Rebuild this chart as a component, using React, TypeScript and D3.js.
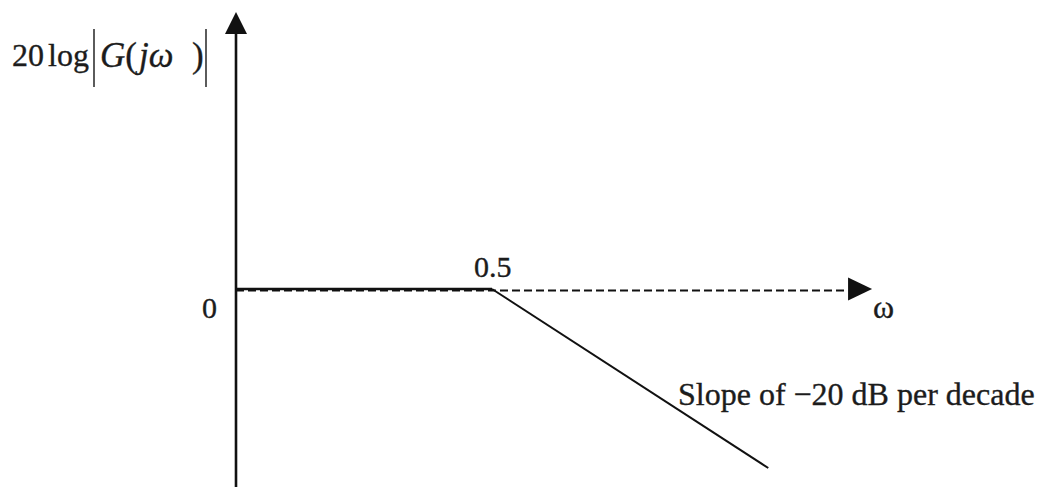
import React from "react";
import * as d3 from "d3";

// Asymptotic Bode magnitude plot of a first-order lag with corner at 0.5 rad/s
const omegaPoints = [0.05, 0.5, 6];
const gainDb = [0, 0, -21.6];
const cornerLabel = "0.5";
const zeroLabel = "0";
const slopeLabel = "Slope of \u221220 dB per decade";
const omegaDashEnd = 12.3;

const W = 1056;
const H = 487;
const FONT = "'Liberation Serif', 'Times New Roman', serif";

export default function App() {
  const x = d3.scaleLog().domain([0.05, 0.5]).range([236, 492]);
  const y = d3.scaleLinear().domain([0, -21.6]).range([289, 468]);

  const pts: [number, number][] = omegaPoints.map((w, i) => [x(w), y(gainDb[i])]);
  const line = d3.line();

  const x0 = x(omegaPoints[0]);
  const y0 = y(0);
  const xCorner = x(0.5);
  const xDashEnd = x(omegaDashEnd);
  const ink = "#111";
  const textInk = "#1c1c1c";
  const textProps = { fill: textInk, stroke: textInk, strokeWidth: 0.35 };

  return (
    <svg
      width={W}
      height={H}
      style={{ position: "absolute", left: 0, top: 0, background: "#fff" }}
      fontFamily={FONT}
    >
      {/* vertical magnitude axis with arrowhead */}
      <line x1={x0} y1={33} x2={x0} y2={H} stroke={ink} strokeWidth={2.6} />
      <path d={`M${x0},12 L${x0 - 11},34 L${x0 + 11},34 Z`} fill={ink} />

      {/* frequency axis, dashed beyond the corner */}
      <line
        x1={x0}
        y1={y0 + 1.5}
        x2={xDashEnd}
        y2={y0 + 1.5}
        stroke={ink}
        strokeWidth={2}
        strokeDasharray="8 4"
      />
      <path
        d={`M${xDashEnd + 24},${y0} L${xDashEnd},${y0 - 11.5} L${xDashEnd},${y0 + 11.5} Z`}
        fill={ink}
      />

      {/* asymptote: flat to the corner, then falling */}
      <path d={line(pts.slice(0, 2)) || ""} stroke={ink} strokeWidth={2.4} fill="none" />
      <path d={line(pts.slice(1)) || ""} stroke={ink} strokeWidth={2} fill="none" />

      {/* labels */}
      <text x={202} y={318} fontSize={30} {...textProps}>
        {zeroLabel}
      </text>
      <text x={xCorner - 18} y={277} fontSize={30} {...textProps}>
        {cornerLabel}
      </text>
      <text x={873} y={318} fontSize={32} {...textProps}>
        ω
      </text>
      <text x={678} y={405} fontSize={32} {...textProps}>
        {slopeLabel}
      </text>

      {/* y-axis title: 20 log|G(jω)| */}
      <text x={12} y={66} fontSize={32} {...textProps}>
        20
        <tspan dx={4}>log</tspan>
      </text>
      <line x1={94} y1={29} x2={94} y2={87} stroke="#333" strokeWidth={1.6} />
      <text x={100} y={67} fontSize={35} {...textProps}>
        <tspan fontStyle="italic">G</tspan>
        <tspan>(</tspan>
        <tspan fontStyle="italic" dx={2}>jω</tspan>
      </text>
      <text x={192} y={67} fontSize={35} {...textProps}>
        )
      </text>
      <line x1={206} y1={29} x2={206} y2={87} stroke="#333" strokeWidth={1.6} />
    </svg>
  );
}
